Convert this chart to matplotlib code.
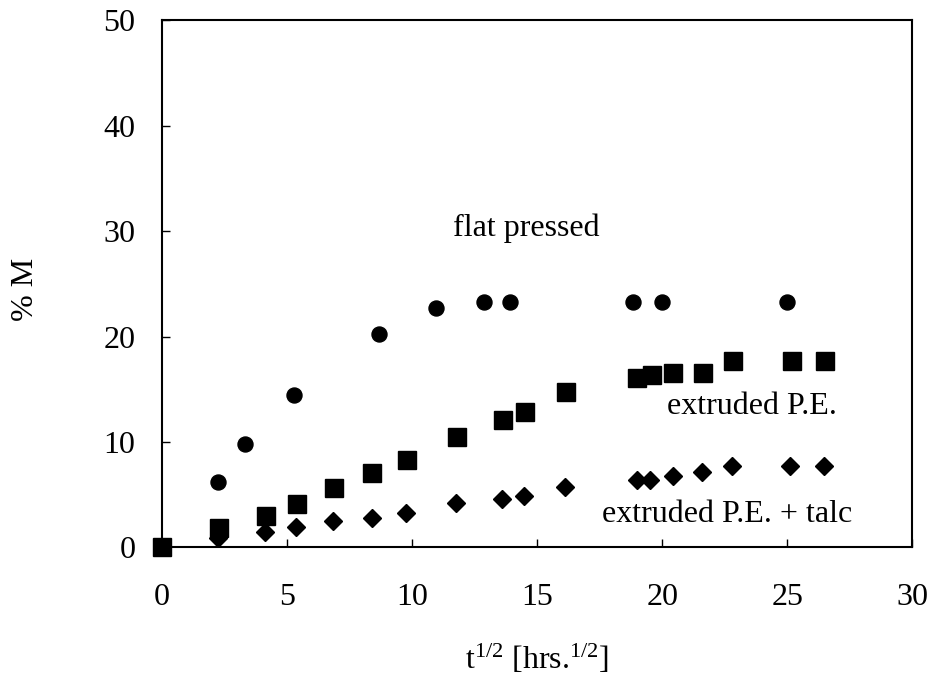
import matplotlib
matplotlib.use('Agg')
import matplotlib.pyplot as plt

# datos
x_flat = [0, 2.23, 3.32, 5.28, 8.69, 10.95, 12.89, 13.92, 18.83, 20.01, 24.99]
y_flat = [0, 6.23, 9.78, 14.43, 20.26, 22.7, 23.27, 23.27, 23.3, 23.27, 23.27]

x_pe = [0, 2.27, 4.15, 5.39, 6.87, 8.39, 9.8, 11.79, 13.63, 14.52, 16.16,
        18.99, 19.59, 20.45, 21.63, 22.83, 25.19, 26.52]
y_pe = [0, 1.8, 2.97, 4.08, 5.6, 7.03, 8.29, 10.5, 12.09, 12.88, 14.78,
        16.1, 16.36, 16.58, 16.58, 17.72, 17.72, 17.72]

x_talc = [0, 2.23, 4.12, 5.36, 6.85, 8.39, 9.77, 11.76, 13.59, 14.49, 16.12,
          18.99, 19.52, 20.45, 21.59, 22.79, 25.12, 26.45]
y_talc = [0, 0.85, 1.42, 1.96, 2.53, 2.81, 3.29, 4.18, 4.59, 4.9, 5.76,
          6.39, 6.39, 6.77, 7.12, 7.72, 7.72, 7.72]

x_ticks = [0, 5, 10, 15, 20, 25, 30]
y_ticks = [0, 10, 20, 30, 40, 50]

plt.rcParams['font.family'] = ['Liberation Serif', 'DejaVu Serif']
plt.rcParams['mathtext.fontset'] = 'custom'
plt.rcParams['mathtext.rm'] = 'Liberation Serif'
plt.rcParams['mathtext.default'] = 'regular'

tam = 23

fig = plt.figure(figsize=(9.32, 6.75), dpi=100)
ax = fig.add_axes([0.1738, 0.1892, 0.8051, 0.7807])

# diamantes, cuadrados y circulos
ax.plot(x_talc, y_talc, 'D', color='black', markersize=9.5, clip_on=False, zorder=3)
ax.plot(x_pe, y_pe, 's', color='black', markersize=13, clip_on=False, zorder=3)
ax.plot(x_flat, y_flat, 'o', color='black', markersize=10.8, clip_on=False, zorder=3)

ax.text(11.64, 30.3, 'flat pressed', fontsize=tam, ha='left', va='center')
ax.text(20.19, 13.4, 'extruded P.E.', fontsize=tam, ha='left', va='center')
ax.text(17.59, 3.07, 'extruded P.E. + talc', fontsize=tam, ha='left', va='center')

ax.set_xlim(0, 30)
ax.set_ylim(0, 50)
ax.set_xticks(x_ticks)
ax.set_yticks(y_ticks)
ax.tick_params(axis='x', direction='in', length=6, width=1, pad=26, labelsize=tam)
ax.tick_params(axis='y', direction='in', length=6, width=1, pad=19, labelsize=tam)
for s in ax.spines.values():
    s.set_linewidth(1.5)

ax.set_xlabel('t$^{1/2}$ [hrs.$^{1/2}$]', fontsize=tam)
ax.set_ylabel('% M', fontsize=tam)
ax.xaxis.set_label_coords(0.5, -0.182)
ax.yaxis.set_label_coords(-0.163, 0.49)

fig.savefig('out.png', dpi=100)
